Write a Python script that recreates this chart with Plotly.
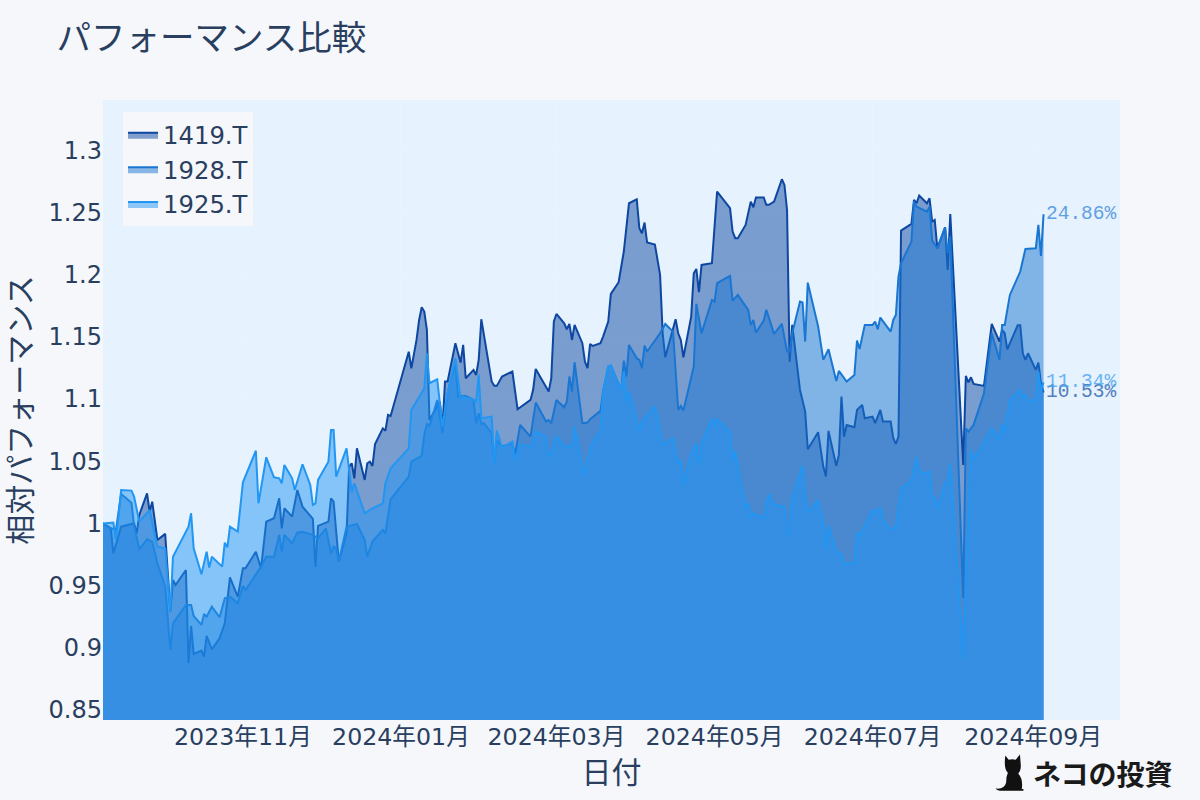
import plotly.graph_objects as go
import urllib.parse

title_text = "パフォーマンス比較"
x_title = "日付"
y_title = "相対パフォーマンス"
names = ["1419.T", "1928.T", "1925.T"]
colors = ["#0d47a1", "#1976d2", "#2196f3"]
fills = ["rgba(13,71,161,0.5)", "rgba(25,118,210,0.5)", "rgba(33,150,243,0.5)"]

dates_1419 = """2023-09-08 2023-09-11 2023-09-12 2023-09-15 2023-09-20 2023-09-21 2023-09-22 2023-09-25 2023-09-26 2023-09-27 2023-09-29
2023-10-02 2023-10-04 2023-10-05 2023-10-06 2023-10-10 2023-10-11 2023-10-12 2023-10-13 2023-10-16 2023-10-17 2023-10-18 2023-10-20 2023-10-23 2023-10-25 2023-10-27 2023-10-30
2023-11-01 2023-11-02 2023-11-06 2023-11-08 2023-11-10 2023-11-13 2023-11-15 2023-11-16 2023-11-17 2023-11-20 2023-11-22 2023-11-24 2023-11-28 2023-11-29 2023-11-30
2023-12-04 2023-12-05 2023-12-06 2023-12-08 2023-12-11 2023-12-12 2023-12-13 2023-12-14 2023-12-15 2023-12-18 2023-12-19 2023-12-20 2023-12-21 2023-12-22 2023-12-25 2023-12-26 2023-12-27 2023-12-28
2024-01-04 2024-01-05 2024-01-07 2024-01-08 2024-01-09 2024-01-10 2024-01-11 2024-01-12 2024-01-16 2024-01-17 2024-01-18 2024-01-19 2024-01-22 2024-01-24 2024-01-25 2024-01-26 2024-01-29 2024-01-30 2024-01-31
2024-02-01 2024-02-05 2024-02-06 2024-02-07 2024-02-09 2024-02-13 2024-02-15 2024-02-20 2024-02-21 2024-02-22 2024-02-27 2024-02-28 2024-02-29
2024-03-01 2024-03-04 2024-03-05 2024-03-06 2024-03-07 2024-03-08 2024-03-11 2024-03-12 2024-03-13 2024-03-14 2024-03-15 2024-03-18 2024-03-19 2024-03-21 2024-03-22 2024-03-25 2024-03-27 2024-03-29
2024-04-01 2024-04-02 2024-04-03 2024-04-04 2024-04-05 2024-04-08 2024-04-10 2024-04-11 2024-04-12 2024-04-16 2024-04-17 2024-04-18 2024-04-19 2024-04-22 2024-04-23 2024-04-24 2024-04-25 2024-04-26 2024-04-30
2024-05-02 2024-05-07 2024-05-08 2024-05-09 2024-05-10 2024-05-13 2024-05-15 2024-05-16 2024-05-17 2024-05-20 2024-05-21 2024-05-22 2024-05-24 2024-05-27 2024-05-28 2024-05-29 2024-05-30 2024-05-31
2024-06-03 2024-06-05 2024-06-06 2024-06-10 2024-06-12 2024-06-13 2024-06-14 2024-06-17 2024-06-18 2024-06-19 2024-06-20 2024-06-21 2024-06-24 2024-06-25 2024-06-27 2024-06-28
2024-07-01 2024-07-02 2024-07-04 2024-07-05 2024-07-08 2024-07-09 2024-07-10 2024-07-11 2024-07-12 2024-07-16 2024-07-17 2024-07-18 2024-07-19 2024-07-22 2024-07-23 2024-07-24 2024-07-25 2024-07-26 2024-07-29 2024-07-30 2024-07-31
2024-08-05 2024-08-06 2024-08-07 2024-08-08 2024-08-09 2024-08-13 2024-08-16 2024-08-19 2024-08-20 2024-08-21 2024-08-22 2024-08-26 2024-08-27 2024-08-28 2024-08-29 2024-08-30
2024-09-02 2024-09-03 2024-09-04 2024-09-05""".split()
values_1419 = [1.0, .9961, .976, .9974, 1.0001, .9921, 1.0068, 1.0242, 1.0095, 1.0175, .9867,
    .9916, .9291, .9546, .9505, .9626, .8876, .9176, .8951, .8978, .8929, .9096, .8988, .9077, .9197, .9567, .9412,
    .964, .964, .9773, .964, 1.0015, 1.0042, 1.0202, .9961, 1.0122, 1.0055, 1.0269, 1.0135, 1.0036, .9653, .998,
    1.0015, 1.0202, 1.0175, .9693, .9921, 1.0457, 1.0484, 1.0363, 1.0604, 1.035, 1.0484, 1.0497, 1.0462, 1.0639, 1.0765, 1.0746, 1.0872, 1.0864,
    1.1381, 1.1247, 1.1475, 1.1636, 1.1738, 1.1703, 1.1556, 1.0832, 1.098, 1.0765, 1.1141, 1.1141, 1.1449, 1.1293, 1.1435, 1.1167, 1.1234, 1.1194, 1.1315,
    1.1642, 1.1141, 1.1106, 1.1106, 1.1181, 1.1221, 1.0918, 1.0993, 1.1074, 1.1242, 1.106, 1.1167, 1.1623,
    1.1684, 1.1609, 1.1561, 1.1604, 1.1475, 1.1596, 1.1449, 1.1301, 1.1248, 1.1443, 1.1427, 1.1449, 1.1502, 1.1623, 1.1845, 1.1939, 1.2186, 1.2574,
    1.2606, 1.2373, 1.2333, 1.2419, 1.2258, 1.2242, 1.1998, 1.1529, 1.1336, 1.1642, 1.1529, 1.1475, 1.1336, 1.1663, 1.2011, 1.2046, 1.1859, 1.2078, 1.2092,
    1.2668, 1.2534, 1.2346, 1.2293, 1.2293, 1.24, 1.2587, 1.2542, 1.262, 1.262, 1.2561, 1.2561, 1.2587, 1.2767, 1.2721, 1.252, 1.1301, 1.1596,
    1.1073, 1.0899, 1.0597, 1.0733, 1.0457, 1.0377, 1.0744, 1.0463, 1.0551, 1.102, 1.0698, 1.0792, 1.0773, 1.0913, 1.0953, 1.0846,
    1.0859, 1.0806, 1.0913, 1.0819, 1.0819, 1.0685, 1.0639, 1.0698, 1.2354, 1.2408, 1.2601, 1.2574, 1.2636, 1.2574, 1.2614, 1.2427, 1.244, 1.2212, 1.2381, 1.2038, 1.2488,
    1.0471, 1.1186, 1.1135, 1.1175, 1.1122, 1.1106, 1.1604, 1.1462, 1.1556, 1.1529, 1.14, 1.1593, 1.1593, 1.1368, 1.1315, 1.1368,
    1.1234, 1.1293, 1.1127, 1.1053]

dates_1928 = """2023-09-08 2023-09-11 2023-09-13 2023-09-15 2023-09-19 2023-09-20 2023-09-22 2023-09-25 2023-09-27 2023-09-29
2023-10-02 2023-10-04 2023-10-05 2023-10-10 2023-10-12 2023-10-13 2023-10-16 2023-10-17 2023-10-18 2023-10-20 2023-10-23 2023-10-25 2023-10-27 2023-10-30
2023-11-01 2023-11-02 2023-11-08 2023-11-10 2023-11-13 2023-11-15 2023-11-16 2023-11-17 2023-11-20 2023-11-22 2023-11-24 2023-11-28 2023-11-30
2023-12-03 2023-12-05 2023-12-06 2023-12-07 2023-12-08 2023-12-11 2023-12-12 2023-12-15 2023-12-18 2023-12-19 2023-12-21 2023-12-25 2023-12-26 2023-12-28
2024-01-04 2024-01-05 2024-01-09 2024-01-10 2024-01-11 2024-01-12 2024-01-15 2024-01-17 2024-01-19 2024-01-22 2024-01-23 2024-01-26 2024-01-29 2024-01-30 2024-01-31
2024-02-01 2024-02-02 2024-02-05 2024-02-06 2024-02-07 2024-02-09 2024-02-13 2024-02-14 2024-02-16 2024-02-20 2024-02-22 2024-02-26 2024-02-27 2024-02-28
2024-03-01 2024-03-04 2024-03-05 2024-03-06 2024-03-07 2024-03-08 2024-03-11 2024-03-13 2024-03-14 2024-03-18 2024-03-19 2024-03-21 2024-03-22 2024-03-26 2024-03-27 2024-03-28 2024-03-29
2024-04-01 2024-04-02 2024-04-03 2024-04-04 2024-04-05 2024-04-10 2024-04-12 2024-04-15 2024-04-17 2024-04-18 2024-04-19 2024-04-23 2024-04-24 2024-04-26 2024-04-30
2024-05-01 2024-05-02 2024-05-07 2024-05-08 2024-05-10 2024-05-14 2024-05-15 2024-05-16 2024-05-17 2024-05-20 2024-05-21 2024-05-24 2024-05-27 2024-05-29 2024-05-30 2024-05-31
2024-06-03 2024-06-04 2024-06-05 2024-06-06 2024-06-10 2024-06-12 2024-06-14 2024-06-17 2024-06-18 2024-06-21 2024-06-24 2024-06-25 2024-06-26 2024-06-28
2024-07-01 2024-07-02 2024-07-03 2024-07-04 2024-07-08 2024-07-09 2024-07-10 2024-07-11 2024-07-12 2024-07-16 2024-07-17 2024-07-18 2024-07-22 2024-07-23 2024-07-24 2024-07-26 2024-07-29 2024-07-30 2024-07-31
2024-08-05 2024-08-06 2024-08-07 2024-08-09 2024-08-13 2024-08-16 2024-08-19 2024-08-20 2024-08-21 2024-08-23 2024-08-27 2024-08-29
2024-09-02 2024-09-03 2024-09-04 2024-09-05""".split()
values_1928 = [1.0, .9961, .9948, 1.0237, 1.0167, .998, .9792, .9873, .9854, .968,
    .9492, .8983, .9197, .9345, .9345, .9256, .9184, .9272, .9251, .9331, .9246, .9398, .9412, .9358,
    .9498, .9465, .9653, .9733, .9733, .9908, .9773, .9908, .9841, .9926, .9934, .9908, .9881,
    .9961, .976, .9814, .98, .9693, .9974, .998, .9996, .9867, .9733, .9854, .9948, .9921, 1.0194,
    1.0376, 1.0497, 1.0543, 1.0712, 1.08, 1.0784, 1.0993, 1.0725, 1.1047, 1.1301, 1.102, 1.1025, 1.0993, 1.0806, 1.0886,
    1.08, 1.0806, 1.0725, 1.0484, 1.0672, 1.0618, 1.0645, 1.0551, 1.0792, 1.0698, 1.0972, 1.0819, 1.0832, 1.0806,
    1.0993, 1.0934, 1.098, 1.1181, 1.106, 1.1296, 1.0806, 1.0811, 1.0838, 1.0905, 1.106, 1.1261, 1.1269, 1.1074, 1.1309, 1.1181, 1.1435,
    1.1328, 1.1315, 1.1248, 1.143, 1.1382, 1.1529, 1.1604, 1.1542, 1.0913, 1.0945, 1.0907, 1.1261, 1.1765, 1.1529, 1.1797,
    1.1784, 1.1931, 1.199, 1.1789, 1.1837, 1.1717, 1.1596, 1.1636, 1.1534, 1.1631, 1.1717, 1.1524, 1.1604, 1.1382, 1.1382, 1.1529,
    1.1784, 1.1776, 1.1462, 1.1936, 1.1583, 1.1315, 1.14, 1.1146, 1.1226, 1.1141, 1.1194, 1.147, 1.1403, 1.1596,
    1.1596, 1.1623, 1.1561, 1.1655, 1.1542, 1.1636, 1.1676, 1.1985, 1.2092, 1.2266, 1.2587, 1.2547, 1.2507, 1.2547, 1.2274, 1.2212, 1.2381, 1.2172, 1.2306,
    .9399, 1.0765, 1.0739, 1.0792, 1.1047, 1.1529, 1.1315, 1.1596, 1.1596, 1.1837, 1.2025, 1.2207,
    1.2212, 1.24, 1.2151, 1.2486]

dates_1925 = """2023-09-08 2023-09-12 2023-09-13 2023-09-15 2023-09-19 2023-09-20 2023-09-22 2023-09-26 2023-09-29
2023-10-02 2023-10-04 2023-10-05 2023-10-11 2023-10-12 2023-10-13 2023-10-16 2023-10-18 2023-10-19 2023-10-20 2023-10-24 2023-10-25 2023-10-26 2023-10-27 2023-10-30
2023-11-01 2023-11-06 2023-11-07 2023-11-10 2023-11-13 2023-11-15 2023-11-16 2023-11-17 2023-11-20 2023-11-21 2023-11-24 2023-11-27 2023-11-28 2023-11-29 2023-11-30
2023-12-04 2023-12-05 2023-12-06 2023-12-07 2023-12-11 2023-12-13 2023-12-14 2023-12-18 2023-12-21 2023-12-25 2023-12-26 2023-12-28
2024-01-04 2024-01-05 2024-01-10 2024-01-11 2024-01-12 2024-01-15 2024-01-16 2024-01-17 2024-01-19 2024-01-22 2024-01-24 2024-01-25 2024-01-29 2024-01-30 2024-01-31
2024-02-01 2024-02-05 2024-02-06 2024-02-07 2024-02-09 2024-02-13 2024-02-14 2024-02-16 2024-02-20 2024-02-22 2024-02-26 2024-02-27 2024-02-28
2024-03-01 2024-03-04 2024-03-07 2024-03-08 2024-03-11 2024-03-12 2024-03-13 2024-03-15 2024-03-18 2024-03-19 2024-03-21 2024-03-22 2024-03-26 2024-03-27 2024-03-28 2024-03-29
2024-04-02 2024-04-03 2024-04-05 2024-04-08 2024-04-11 2024-04-15 2024-04-17 2024-04-18 2024-04-19 2024-04-22 2024-04-24 2024-04-25 2024-04-26 2024-04-30
2024-05-01 2024-05-02 2024-05-07 2024-05-08 2024-05-09 2024-05-13 2024-05-14 2024-05-15 2024-05-16 2024-05-20 2024-05-22 2024-05-24 2024-05-28 2024-05-29 2024-05-30 2024-05-31
2024-06-04 2024-06-05 2024-06-06 2024-06-10 2024-06-12 2024-06-13 2024-06-14 2024-06-17 2024-06-19 2024-06-20 2024-06-24 2024-06-25 2024-06-26
2024-07-01 2024-07-02 2024-07-04 2024-07-05 2024-07-08 2024-07-10 2024-07-12 2024-07-16 2024-07-18 2024-07-19 2024-07-22 2024-07-23 2024-07-24 2024-07-25 2024-07-26 2024-07-29 2024-07-30 2024-07-31
2024-08-05 2024-08-08 2024-08-09 2024-08-12 2024-08-14 2024-08-16 2024-08-19 2024-08-20 2024-08-21 2024-08-23 2024-08-27 2024-08-28 2024-08-29 2024-08-30
2024-09-02 2024-09-03 2024-09-04 2024-09-05""".split()
values_1925 = [1.0, 1.0007, .9867, 1.0269, 1.0264, 1.0216, 1.0015, 1.0108, .9814,
    .98, .9291, .9733, .9974, 1.0082, .98, .9591, .9773, .9645, .9733, .9653, .9846, .9808, .9974, .9934,
    1.0331, 1.0585, 1.0162, 1.0532, 1.0371, 1.0363, 1.0323, 1.047, 1.0363, 1.0269, 1.0476, 1.0309, 1.0149, 1.0162, 1.035,
    1.0497, 1.0751, 1.0751, 1.0376, 1.0604, 1.0256, 1.0323, 1.0082, 1.0122, 1.0162, 1.0323, 1.0443,
    1.0604, 1.0912, 1.1086, 1.1368, 1.1127, 1.1159, 1.0966, 1.0779, 1.1047, 1.1328, 1.1006, 1.102, 1.0993, 1.098, 1.1194,
    1.0846, 1.0859, 1.0484, 1.0747, 1.061, 1.0658, 1.0511, 1.0639, 1.061, 1.0739, 1.0698, 1.0537, 1.0564,
    1.0704, 1.0618, 1.0623, 1.0779, 1.0457, 1.039, 1.0511, 1.0658, 1.0739, 1.106, 1.1261, 1.1269, 1.1074, 1.1221, 1.098, 1.106,
    1.0739, 1.0819, 1.0872, 1.094, 1.0631, 1.0685, 1.0484, 1.0511, 1.031, 1.0564, 1.0645, 1.0471, 1.0645, 1.0846,
    1.0779, 1.0838, 1.0731, 1.0497, 1.0578, 1.0122, 1.0162, 1.0042, 1.0082, 1.0042, 1.0237, 1.0149, 1.0136, .9921, .9908, 1.0203,
    1.0463, 1.0203, 1.0087, 1.0189, 1.0002, .9787, .9988, .9774, .9755, .9672, .9685, .9927, .9895,
    1.0109, 1.0082, 1.013, 1.0028, .9948, .9975, 1.0278, 1.0345, 1.0532, 1.0417, 1.0398, 1.0422, 1.0211, 1.0203, 1.0122, 1.0323, 1.0337, 1.0484,
    .8917, 1.0591, 1.0516, 1.0605, 1.0698, 1.0765, 1.0672, 1.08, 1.0725, 1.0993, 1.1074, 1.1015, 1.1033, 1.0985,
    1.0993, 1.1221, 1.1074, 1.1134]

series_dates = [dates_1419, dates_1928, dates_1925]
series_values = [values_1419, values_1928, values_1925]
for d, v in zip(series_dates, series_values):
    assert len(d) == len(v), (len(d), len(v))

ink = "#2a3f5f"
paper = "#f5f7fb"
font_main = "DejaVu Sans, Noto Sans CJK JP"
label_colors = ["#2f62ad", "#3f8cda", "#4aa5f0"]

fig = go.Figure()
for name, xs, ys, col, fc in zip(names, series_dates, series_values, colors, fills):
    fig.add_trace(go.Scatter(x=xs, y=ys, name=name, mode="lines", fill="tozeroy",
                             line=dict(color=col, width=2), fillcolor=fc))

for xs, ys, col in zip(series_dates, series_values, label_colors):
    fig.add_annotation(x=xs[-1], y=ys[-1], text=f"{(ys[-1]-1)*100:.2f}%", showarrow=False,
                       xanchor="left", yanchor="middle", opacity=0.8,
                       font=dict(family="Liberation Mono, monospace", size=19.5, color=col))

cat_svg = ("<svg xmlns='http://www.w3.org/2000/svg' viewBox='0 0 40 44'>"
           "<path fill='#111' d='M12 2 L16 7 Q20 6 24 7 L29 1 L30 14 Q30 20 27 23 "
           "Q33 30 31 41 L33 41 L33 43 L9 43 Q2 43 1 40 Q3 41 7 40 Q12 38 13 33 Q13 26 15 22 Q10 18 12 2 Z'/>"
           "</svg>")
fig.add_layout_image(dict(source="data:image/svg+xml," + urllib.parse.quote(cat_svg),
                          xref="paper", yref="paper", x=0.877, y=-0.052, sizex=0.034, sizey=0.066,
                          xanchor="left", yanchor="top", sizing="contain"))
fig.add_annotation(text="<b>ネコの投資</b>", xref="paper", yref="paper", x=1.053, y=-0.0855,
                   xanchor="right", yanchor="middle", showarrow=False,
                   font=dict(family="Noto Sans CJK JP", size=28, color="#1a1a1a"))

fig.update_layout(
    width=1200, height=800,
    margin=dict(l=103, r=80, t=100, b=80),
    paper_bgcolor=paper, plot_bgcolor="#e6f2fd",
    font=dict(family=font_main, color=ink, size=24),
    title=dict(text=title_text, x=0.047, xanchor="left", y=0.953, yanchor="middle",
               font=dict(size=34.5, color=ink, family=font_main)),
    legend=dict(x=0.0197, y=0.98, xanchor="left", yanchor="top", bgcolor=paper,
                font=dict(size=24.3, color=ink)),
    showlegend=True,
    xaxis=dict(title=dict(text=x_title, font=dict(size=30), standoff=12),
               type="date", range=["2023-09-08", "2024-10-04 12:00"],
               tick0="2023-11-01", dtick="M2", tickformat="%Y年%m月",
               showgrid=True, gridcolor="#e9f4fd", zeroline=False,
               tickfont=dict(size=23.7, color=ink)),
    yaxis=dict(title=dict(text=y_title, font=dict(size=30), standoff=8),
               range=[0.842, 1.3404], tick0=0.85, dtick=0.05, tickformat="~g",
               showgrid=True, gridcolor="#e9f4fd", zeroline=False,
               tickfont=dict(size=24, color=ink)),
)
fig.write_html("out.html", config={"displayModeBar": False},
               post_script="document.body.style.margin='0';document.body.style.background='#f5f7fb';")
